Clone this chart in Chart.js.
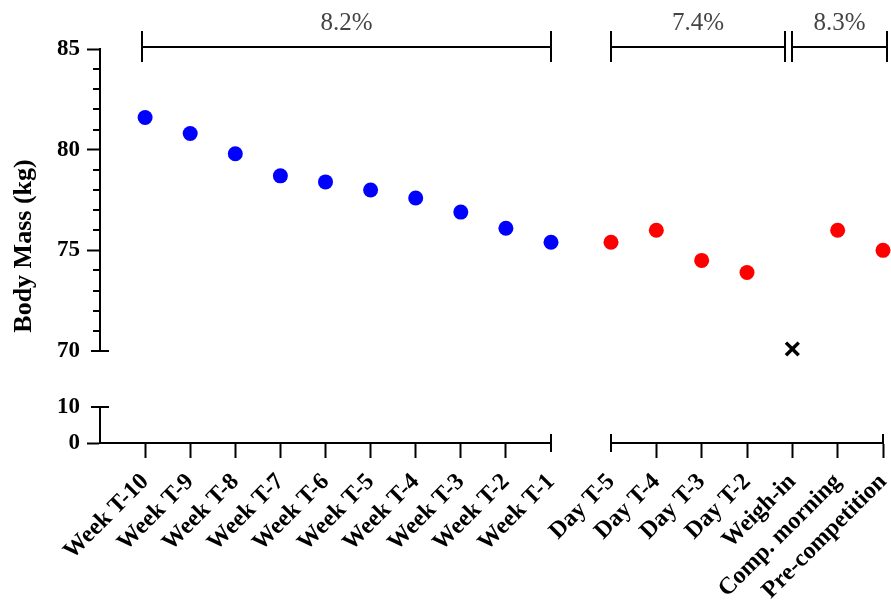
<!DOCTYPE html>
<html>
<head>
<meta charset="utf-8">
<script src="https://cdn.jsdelivr.net/npm/chart.js@4.4.1/dist/chart.umd.min.js"></script>
<style>
html,body{margin:0;padding:0;background:#fff}
#wrap{width:891px;height:615px;position:relative}
</style>
</head>
<body>
<div id="wrap"><canvas id="c"></canvas></div>
<script>
// ---------- data ----------
const weekLabels = ['Week T-10','Week T-9','Week T-8','Week T-7','Week T-6','Week T-5','Week T-4','Week T-3','Week T-2','Week T-1'];
const weekMass   = [81.6, 80.8, 79.8, 78.7, 78.4, 78.0, 77.6, 76.9, 76.1, 75.4];
const dayLabels  = ['Day T-5','Day T-4','Day T-3','Day T-2','Weigh-in','Comp. morning','Pre-competition'];
const dayMass    = [75.4, 76.0, 74.5, 73.9, 70.1, 76.0, 75.0];
const weighInLabel = 'Weigh-in';
const upperTicks = [70, 75, 80, 85];
const lowerTicks = [0, 10];
const bracketLabels = ['8.2%', '7.4%', '8.3%'];
const bracketStarts = ['Week T-10', 'Day T-5', 'Weigh-in'];
const bracketEnds   = ['Week T-1', 'Weigh-in', 'Pre-competition'];
const yTitle = 'Body Mass (kg)';

// ---------- styles ----------
const SERIF = '"Liberation Serif", "Times New Roman", serif';
const BLUE = '#0000ff', RED = '#ff0000', INK = '#000000';
const bracketStartShift = [-3, 0, 0];
const bracketEndShift = [0, -7, 4];
const PLOT_LEFT = 100, TITLE_W = 40, PLOT_BOTTOM = 443;

function fixW(w) { return s => { s.width = w; s.paddingTop = 0; s.paddingBottom = 0; }; }
function fixH(h) { return s => { s.height = h; s.paddingLeft = 0; s.paddingRight = 0; }; }
const XH = 615 - PLOT_BOTTOM;

const isWeigh = l => l === weighInLabel;

function labelPixel(chart, label) {
  const wi = weekLabels.indexOf(label);
  if (wi >= 0) return chart.scales.xW.getPixelForValue(wi);
  return chart.scales.xD.getPixelForValue(dayLabels.indexOf(label));
}

const decor = {
  id: 'decor',
  afterDraw(chart) {
    const ctx = chart.ctx;
    const yT = chart.scales.yTop, yB = chart.scales.yBot, xW = chart.scales.xW, xD = chart.scales.xD;
    const ax = yT.right;
    ctx.save();
    ctx.strokeStyle = INK;
    ctx.lineWidth = 2;
    ctx.lineCap = 'butt';
    const line = (x1, y1, x2, y2) => { ctx.beginPath(); ctx.moveTo(x1, y1); ctx.lineTo(x2, y2); ctx.stroke(); };
    // minor ticks on the upper y segment
    for (let v = upperTicks[0] + 1; v < upperTicks[upperTicks.length - 1]; v++) {
      if (upperTicks.includes(v)) continue;
      const y = Math.round(yT.getPixelForValue(v));
      line(ax - 7, y, ax, y);
    }
    // break caps on the y axis
    const yc1 = Math.round(yT.getPixelForValue(upperTicks[0]));
    line(ax - 9, yc1, ax + 9, yc1);
    const yc2 = Math.round(yB.getPixelForValue(lowerTicks[lowerTicks.length - 1]));
    line(ax - 9, yc2, ax + 9, yc2);
    // break caps on the x axis
    const by = Math.round(xW.top);
    const xe = Math.round(xW.getPixelForValue(weekLabels.length - 1));
    line(xe, by - 9, xe, by + 9);
    const xs = Math.round(xD.getPixelForValue(0));
    line(xs, by - 9, xs, by + 9);
    const xl = Math.round(xD.getPixelForValue(dayLabels.length - 1));
    line(xl, by - 9, xl, by);
    // brackets with percentages
    const brY = 47, capTop = 31, capBot = 62;
    ctx.fillStyle = '#444';
    ctx.font = '25px ' + SERIF;
    ctx.textAlign = 'center';
    ctx.textBaseline = 'middle';
    for (let i = 0; i < bracketLabels.length; i++) {
      const x1 = Math.round(labelPixel(chart, bracketStarts[i]) + bracketStartShift[i]);
      const x2 = Math.round(labelPixel(chart, bracketEnds[i]) + bracketEndShift[i]);
      line(x1, brY, x2, brY);
      line(x1, capTop, x1, capBot);
      line(x2, capTop, x2, capBot);
      ctx.fillText(bracketLabels[i], (x1 + x2) / 2, 23);
    }
    ctx.restore();
  }
};

const tickFont = { family: SERIF, size: 23, weight: 'bold' };
const xFont = { family: SERIF, size: 24, weight: 'bold' };

const hiddenAxis = (extra) => Object.assign({
  type: 'linear', display: true, min: 0, max: 1,
  grid: { display: false }, border: { display: false }, ticks: { display: false }
}, extra);

const chart = new Chart(document.getElementById('c'), {
  type: 'scatter',
  data: {
    datasets: [
      {
        label: 'Weeks', xAxisID: 'xW', yAxisID: 'yTop', clip: false,
        data: weekMass.map((v, i) => ({ x: i, y: v })),
        pointRadius: 7.5, pointHoverRadius: 7.5,
        backgroundColor: BLUE, borderColor: BLUE, borderWidth: 0
      },
      {
        label: 'Days', xAxisID: 'xD', yAxisID: 'yTop', clip: false,
        data: dayMass.map((v, i) => ({ x: i, y: v })),
        pointStyle: dayLabels.map(l => isWeigh(l) ? 'crossRot' : 'circle'),
        pointRadius: dayLabels.map(l => isWeigh(l) ? 9 : 7.5),
        backgroundColor: dayLabels.map(l => isWeigh(l) ? INK : RED),
        borderColor: dayLabels.map(l => isWeigh(l) ? INK : RED),
        borderWidth: dayLabels.map(l => isWeigh(l) ? 3.5 : 0)
      }
    ]
  },
  options: {
    responsive: true,
    maintainAspectRatio: false,
    animation: false,
    events: [],
    layout: { autoPadding: false, padding: { top: 49, right: 8, bottom: 0, left: 0 } },
    plugins: { legend: { display: false }, tooltip: { enabled: false } },
    scales: {
      xW: {
        type: 'linear', position: 'bottom', stack: 'xs', stackWeight: 451,
        min: -1, max: weekLabels.length - 1,
        afterBuildTicks: s => { s.ticks = weekLabels.map((_, i) => ({ value: i })); },
        afterFit: fixH(XH),
        border: { display: true, color: INK, width: 2 },
        grid: { drawOnChartArea: false, tickLength: 15, tickWidth: 2,
                tickColor: c => c.index === weekLabels.length - 1 ? 'rgba(0,0,0,0)' : INK },
        ticks: { autoSkip: false, minRotation: 45, maxRotation: 45, padding: 10, color: INK, font: xFont,
                 callback: v => weekLabels[v] }
      },
      xGap: hiddenAxis({ position: 'bottom', stack: 'xs', stackWeight: 60, afterFit: fixH(XH) }),
      xD: {
        type: 'linear', position: 'bottom', stack: 'xs', stackWeight: 272,
        min: 0, max: dayLabels.length - 1,
        afterBuildTicks: s => { s.ticks = dayLabels.map((_, i) => ({ value: i })); },
        afterFit: fixH(XH),
        border: { display: true, color: INK, width: 2 },
        grid: { drawOnChartArea: false, tickLength: 15, tickWidth: 2,
                tickColor: c => c.index === 0 ? 'rgba(0,0,0,0)' : INK },
        ticks: { autoSkip: false, minRotation: 45, maxRotation: 45, padding: 10, color: INK, font: xFont,
                 callback: v => dayLabels[v] }
      },
      yBot: {
        type: 'linear', position: 'left', stack: 'ys', stackWeight: 36,
        min: lowerTicks[0], max: lowerTicks[lowerTicks.length - 1],
        afterBuildTicks: s => { s.ticks = lowerTicks.map(v => ({ value: v })); },
        afterFit: fixW(PLOT_LEFT - TITLE_W),
        border: { display: true, color: INK, width: 2 },
        grid: { drawOnChartArea: false, tickLength: 13, tickWidth: 2,
                tickColor: c => c.tick && c.tick.value === lowerTicks[lowerTicks.length - 1] ? 'rgba(0,0,0,0)' : INK },
        ticks: { autoSkip: false, padding: 7, color: INK, font: tickFont }
      },
      yGap: hiddenAxis({ position: 'left', stack: 'ys', stackWeight: 56, afterFit: fixW(PLOT_LEFT - TITLE_W) }),
      yTop: {
        type: 'linear', position: 'left', stack: 'ys', stackWeight: 302,
        min: upperTicks[0], max: upperTicks[upperTicks.length - 1],
        afterBuildTicks: s => { s.ticks = upperTicks.map(v => ({ value: v })); },
        afterFit: fixW(PLOT_LEFT - TITLE_W),
        border: { display: true, color: INK, width: 2 },
        grid: { drawOnChartArea: false, tickLength: 13, tickWidth: 2,
                tickColor: c => c.tick && c.tick.value === upperTicks[0] ? 'rgba(0,0,0,0)' : INK },
        ticks: { autoSkip: false, padding: 7, color: INK, font: tickFont }
      },
      yT: hiddenAxis({
        position: 'left', afterFit: fixW(TITLE_W),
        title: { display: true, text: yTitle, color: INK, padding: { top: 9, bottom: 0 },
                 font: { family: SERIF, size: 26, weight: 'bold' } }
      })
    }
  },
  plugins: [decor]
});
</script>
</body>
</html>
